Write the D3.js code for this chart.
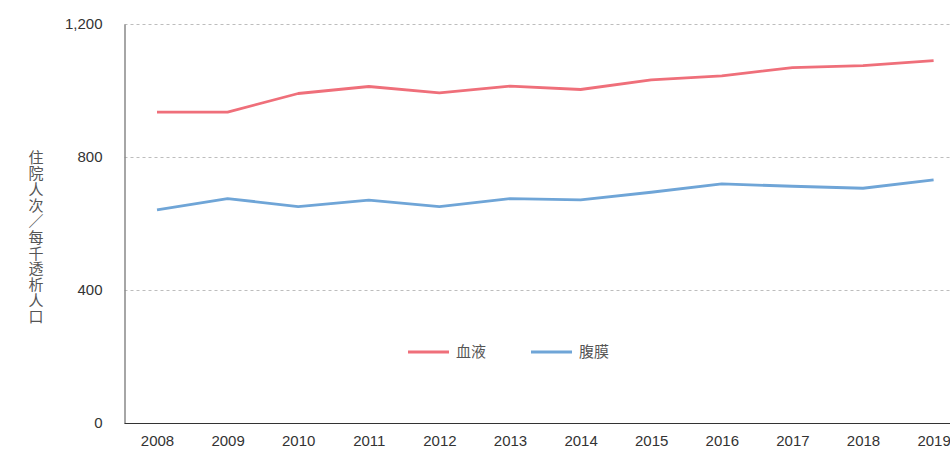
<!DOCTYPE html>
<html>
<head>
<meta charset="utf-8">
<script src="https://cdn.jsdelivr.net/npm/d3@7"></script>
<style>
  body { margin: 0; background: #fff; }
  svg { display: block; font-family: "Liberation Sans", Arial, sans-serif; }
</style>
</head>
<body>
<div id="chart"></div>
<script>
// data
const years = ["2008", "2009", "2010", "2011", "2012", "2013", "2014", "2015", "2016", "2017", "2018", "2019"];
const hemoValues = [935, 935, 991, 1012, 993, 1013, 1003, 1032, 1044, 1069, 1075, 1090];
const peritonealValues = [641, 675, 651, 670, 651, 675, 671, 694, 719, 712, 706, 731];
const yTicks = [0, 400, 800, 1200];
const seriesNames = ["血液", "腹膜"];
const yLabel = "住院人次／每千透析人口";

const width = 950, height = 450;
const margin = { top: 24, right: 0, bottom: 27, left: 124.5 };
const colors = ["#ef6f7a", "#6fa5d7"];
const cjk = "'Noto Sans CJK SC', 'Noto Sans', sans-serif";

const svg = d3.select("#chart").append("svg")
  .attr("width", width)
  .attr("height", height);

const x = d3.scalePoint()
  .domain(years)
  .range([margin.left + 32.5, margin.left + 32.5 + 11 * 70.6]);

const y = d3.scaleLinear()
  .domain([0, 1200])
  .range([height - margin.bottom, margin.top]);

// grid lines
svg.append("g")
  .selectAll("line")
  .data(yTicks.filter(d => d > 0))
  .enter().append("line")
  .attr("x1", margin.left)
  .attr("x2", width)
  .attr("y1", d => Math.round(y(d)) + 0.5)
  .attr("y2", d => Math.round(y(d)) + 0.5)
  .attr("stroke", "#bdbdbd")
  .attr("stroke-dasharray", "3,3");

// y axis
const yAxis = svg.append("g")
  .attr("transform", `translate(${margin.left},0)`)
  .call(d3.axisLeft(y).tickValues(yTicks).tickFormat(d3.format(",")).tickSize(0).tickPadding(22));
yAxis.select(".domain").attr("stroke", "#888").attr("stroke-width", 1.5);
yAxis.selectAll("text").style("font-size", "15px").attr("fill", "#333");

// x axis
const xAxis = svg.append("g")
  .attr("transform", `translate(0,${height - margin.bottom + 0.5})`)
  .call(d3.axisBottom(x).tickSize(0).tickPadding(12));
xAxis.select(".domain").attr("d", `M${margin.left},0H${width}`).attr("stroke", "#333").attr("stroke-width", 1.2);
xAxis.selectAll("text").style("font-size", "15px").attr("fill", "#333");

// lines
const line = d3.line()
  .x((d, i) => x(years[i]))
  .y(d => y(d));

[hemoValues, peritonealValues].forEach((vals, k) => {
  svg.append("path")
    .datum(vals)
    .attr("d", line)
    .attr("fill", "none")
    .attr("stroke", colors[k])
    .attr("stroke-width", 2.8)
    .attr("stroke-linejoin", "round");
});

// legend
const legendX = [408, 531];
seriesNames.forEach((name, k) => {
  const g = svg.append("g").attr("transform", `translate(${legendX[k]},352)`);
  g.append("line")
    .attr("x1", 0).attr("x2", 41)
    .attr("stroke", colors[k])
    .attr("stroke-width", 2.8);
  g.append("text")
    .attr("x", 48)
    .attr("dy", "0.35em")
    .style("font-family", cjk)
    .style("font-size", "15px")
    .attr("fill", "#555")
    .text(name);
});

// vertical y label
svg.append("text")
  .attr("x", 36)
  .attr("y", 150)
  .style("writing-mode", "vertical-rl")
  .style("text-orientation", "upright")
  .style("letter-spacing", "0.9px")
  .style("font-family", cjk)
  .style("font-size", "15px")
  .attr("fill", "#555")
  .text(yLabel);
</script>
</body>
</html>
